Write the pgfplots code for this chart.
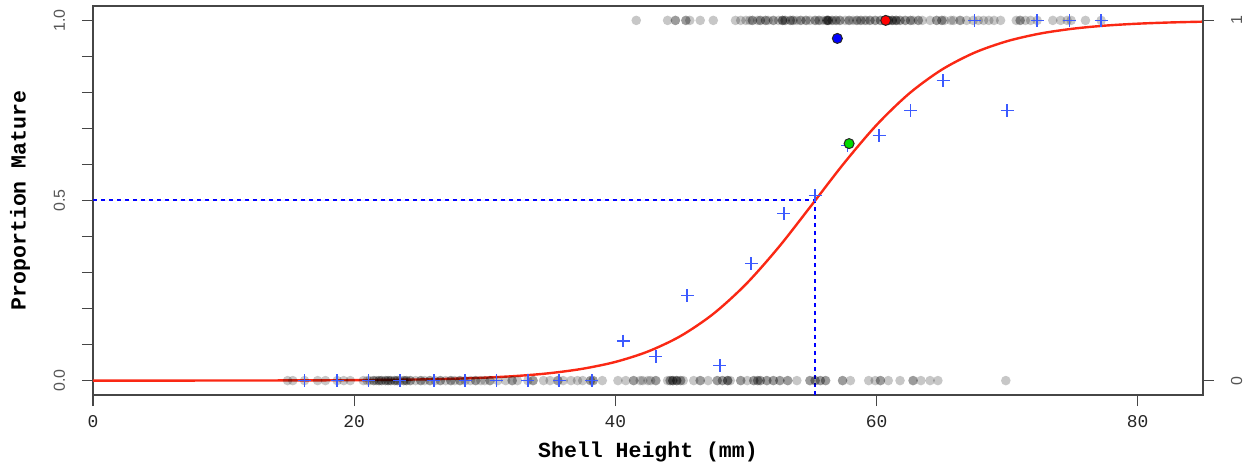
\documentclass[border=0pt]{standalone}
\usepackage{fontspec}
\setmainfont{Liberation Sans}
\setmonofont{Liberation Mono}
\usepackage{pgfplots}
\pgfplotsset{compat=1.18}
\definecolor{crossblue}{RGB}{60,90,255}
\definecolor{fitred}{RGB}{250,40,20}
\definecolor{boxgray}{RGB}{70,70,70}
\definecolor{labgray}{RGB}{85,85,85}

\begin{document}
\begin{tikzpicture}
\begin{axis}[
    at={(0,0)}, anchor=south west,
    scale only axis, width=555bp, height=194.5bp,
    xmin=0, xmax=85, ymin=-0.04, ymax=1.04,
    axis line style={boxgray, line width=0.6bp},
    tick align=outside, major tick length=5.5bp,
    tick style={boxgray, line width=0.6bp},
    xtick pos=left, ytick pos=left,
    xtick={0,20,40,60,80}, xticklabels={0,20,40,60,80},
    ytick={0,0.1,0.2,0.3,0.4,0.5,0.6,0.7,0.8,0.9,1},
    yticklabels={0.0,,,,,0.5,,,,,1.0},
    yticklabel style={rotate=90, anchor=south, yshift=5bp, font=\fontsize{8}{9}\selectfont, text=labgray},
    xticklabel style={font=\ttfamily\fontsize{9}{10}\selectfont, text=black!85, yshift=-1bp},
    xlabel={Shell Height (mm)}, ylabel={Proportion Mature},
    xlabel style={at={(axis description cs:0.5,-0.1465)}, anchor=center,
        font=\ttfamily\bfseries\fontsize{10.8}{12}\selectfont},
    ylabel style={at={(axis description cs:-0.0658,0.5)}, anchor=center,
        font=\ttfamily\bfseries\fontsize{10.8}{12}\selectfont},
    shell/.style={only marks, mark=*, mark size=2.4bp,
        mark options={draw opacity=0, fill=black, fill opacity=0.22}},
]

% individual shells, mature (1)
\addplot[shell] coordinates {
 (41.6,1) (44.0,1) (44.6,1) (45.4,1) (45.7,1) (46.5,1) (47.5,1)
 (49.2,1) (49.6,1) (50.0,1) (50.3,1) (50.5,1) (50.9,1) (51.1,1) (51.5,1) (51.7,1)
 (52.1,1) (52.5,1) (52.8,1) (53.0,1) (53.4,1) (53.6,1) (53.9,1) (54.2,1) (54.6,1)
 (54.9,1) (55.3,1) (55.6,1) (55.9,1) (56.2,1) (56.3,1) (56.6,1) (56.9,1) (57.2,1)
 (57.6,1) (57.9,1) (58.2,1) (58.5,1) (58.8,1) (59.1,1) (59.2,1) (59.5,1) (59.9,1)
 (60.3,1) (60.7,1) (60.9,1) (61.2,1) (61.5,1) (61.8,1) (62.2,1) (62.6,1) (62.8,1)
 (63.2,1) (63.5,1) (64.1,1) (64.6,1) (65.0,1) (65.2,1) (65.7,1) (65.9,1) (66.4,1)
 (66.9,1) (67.4,1) (67.8,1) (68.2,1) (68.6,1) (69.0,1) (69.5,1) (70.7,1) (71.0,1)
 (71.4,1) (71.8,1) (72.3,1) (73.5,1) (74.1,1) (74.6,1) (74.9,1) (76.0,1) (77.2,1)
 (51.1,1) (51.5,1) (52.8,1) (53.4,1) (55.6,1) (56.2,1) (56.3,1) (56.9,1) (59.9,1)
 (60.9,1) (61.2,1) (61.5,1) (62.6,1) (53.6,1) (57.2,1) (58.5,1) (65.0,1) (71.0,1)
 (56.2,1) (56.3,1) (60.9,1) (61.2,1) (52.8,1) (44.6,1) (45.4,1)
 (50.5,1) (52.1,1) (54.2,1) (55.3,1) (57.9,1) (58.8,1) (59.5,1) (60.3,1) (61.8,1)
 (63.2,1) (64.6,1) (66.4,1) (53.0,1) (54.6,1) (56.6,1) (62.2,1) (60.7,1) (61.5,1)
};

% individual shells, immature (0)
\addplot[shell] coordinates {
 (14.9,0) (15.3,0) (16.2,0) (17.2,0) (17.8,0) (18.7,0) (19.2,0) (19.7,0)
 (20.7,0) (21.0,0) (21.2,0) (21.5,0) (21.7,0) (21.9,0) (22.1,0) (22.4,0) (22.6,0)
 (22.8,0) (23.1,0) (23.3,0) (23.5,0) (23.8,0) (24.0,0) (24.3,0) (24.7,0) (25.1,0)
 (25.4,0) (25.8,0) (26.2,0) (26.6,0) (27.0,0) (27.4,0) (27.7,0) (28.1,0) (28.5,0)
 (28.9,0) (29.3,0) (29.7,0) (30.0,0) (30.4,0) (31.0,0) (31.6,0) (32.1,0) (32.5,0)
 (33.3,0) (33.7,0) (34.5,0) (35.0,0) (35.6,0) (36.0,0) (36.6,0) (37.1,0) (37.5,0)
 (38.1,0) (38.3,0) (39.0,0) (40.2,0) (40.8,0) (41.4,0) (41.9,0) (42.7,0)
 (42.1,0) (42.5,0) (43.1,0) (44.0,0) (44.2,0) (44.4,0) (44.7,0) (45.0,0) (45.2,0)
 (46.0,0) (46.5,0) (47.1,0) (47.8,0) (48.2,0) (48.6,0) (48.8,0) (49.6,0) (50.1,0)
 (50.6,0) (50.9,0) (51.1,0) (51.6,0) (52.1,0) (52.6,0) (53.2,0) (53.9,0) (54.9,0)
 (55.3,0) (55.7,0) (56.1,0) (57.4,0) (58.0,0) (59.4,0) (59.9,0) (60.3,0) (60.9,0)
 (61.8,0) (62.8,0) (63.4,0) (64.1,0) (64.7,0) (69.9,0)
 (21.5,0) (21.9,0) (22.4,0) (22.8,0) (23.3,0) (23.8,0) (24.3,0) (25.1,0) (22.1,0)
 (22.6,0) (23.1,0) (24.0,0) (44.2,0) (44.4,0) (44.7,0) (48.6,0) (50.9,0) (51.6,0)
 (55.3,0) (55.7,0) (38.1,0) (38.3,0) (44.4,0) (44.7,0) (48.6,0)
 (25.8,0) (26.6,0) (27.4,0) (28.1,0) (29.3,0) (30.4,0) (32.1,0) (33.7,0) (35.6,0)
 (46.5,0) (47.8,0) (49.6,0) (50.6,0) (52.1,0) (53.2,0) (54.9,0) (56.1,0) (57.4,0)
 (45.0,0) (48.2,0) (51.1,0) (52.6,0) (60.3,0) (62.8,0) (41.4,0) (43.1,0)
};

% fitted logistic curve
\addplot[fitred, line width=1.2bp, smooth] coordinates {
 (0,0.00003) (5,0.00007) (10,0.00018) (15,0.00047) (20,0.00122) (25,0.00315)
 (27.5,0.00506) (30,0.0081) (32.5,0.01297) (35,0.0207) (37.5,0.0329) (40,0.0518)
 (42.5,0.0808) (45,0.1238) (47.5,0.1852) (50,0.2676) (52.5,0.3700) (55,0.4858)
 (57.5,0.6030) (60,0.7095) (62.5,0.7970) (65,0.8633) (67.5,0.9104) (70,0.9423)
 (72.5,0.9633) (75,0.9768) (77.5,0.9855) (80,0.9909) (82.5,0.9943) (85,0.9965)
};

% binned proportions
\addplot[only marks, mark=+, mark size=3.2bp,
    mark options={draw=crossblue, line width=0.7bp}] coordinates {
 (16.2,0) (18.7,0) (21.1,0) (23.5,0) (26.1,0) (28.5,0) (30.9,0) (33.3,0) (35.7,0)
 (38.2,0) (40.6,0.11) (43.1,0.067) (45.5,0.236) (48.0,0.042) (50.4,0.325)
 (52.9,0.464) (55.3,0.514) (57.8,0.653) (60.2,0.68) (62.6,0.75) (65.1,0.833)
 (67.5,1) (70.0,0.75) (72.3,1) (74.8,1) (77.2,1)
};

% L50 guides
\addplot[blue, line width=1bp, dash pattern=on 2bp off 2bp] coordinates {(0,0.5) (55.3,0.5)};
\addplot[blue, line width=1bp, dash pattern=on 2bp off 2bp] coordinates {(55.3,-0.04) (55.3,0.5)};

% highlighted points
\addplot[only marks, mark=*, mark size=2.5bp, mark options={draw=black!85, fill=red, line width=0.5bp}] coordinates {(60.7,1)};
\addplot[only marks, mark=*, mark size=2.5bp, mark options={draw=black!85, fill=blue, line width=0.5bp}] coordinates {(57.0,0.95)};
\addplot[only marks, mark=*, mark size=2.5bp, mark options={draw=black!85, fill=green!85!black, line width=0.5bp}] coordinates {(57.9,0.658)};
\end{axis}

\begin{axis}[
    at={(0,0)}, anchor=south west,
    scale only axis, width=555bp, height=194.5bp,
    xmin=0, xmax=85, ymin=-0.04, ymax=1.04,
    axis x line=none, axis y line*=right,
    axis line style={boxgray, line width=0.6bp},
    tick align=outside, major tick length=5.5bp,
    tick style={boxgray, line width=0.6bp},
    ytick={0,1}, yticklabels={0,1},
    yticklabel style={rotate=90, anchor=north, yshift=-5bp, font=\fontsize{8}{9}\selectfont, text=labgray},
]
\addplot[draw=none] coordinates {(0,0)};
\end{axis}
\pgfresetboundingbox
\path[use as bounding box] (-46.5bp,-35bp) rectangle (577bp,197.5bp);
\end{tikzpicture}
\end{document}
